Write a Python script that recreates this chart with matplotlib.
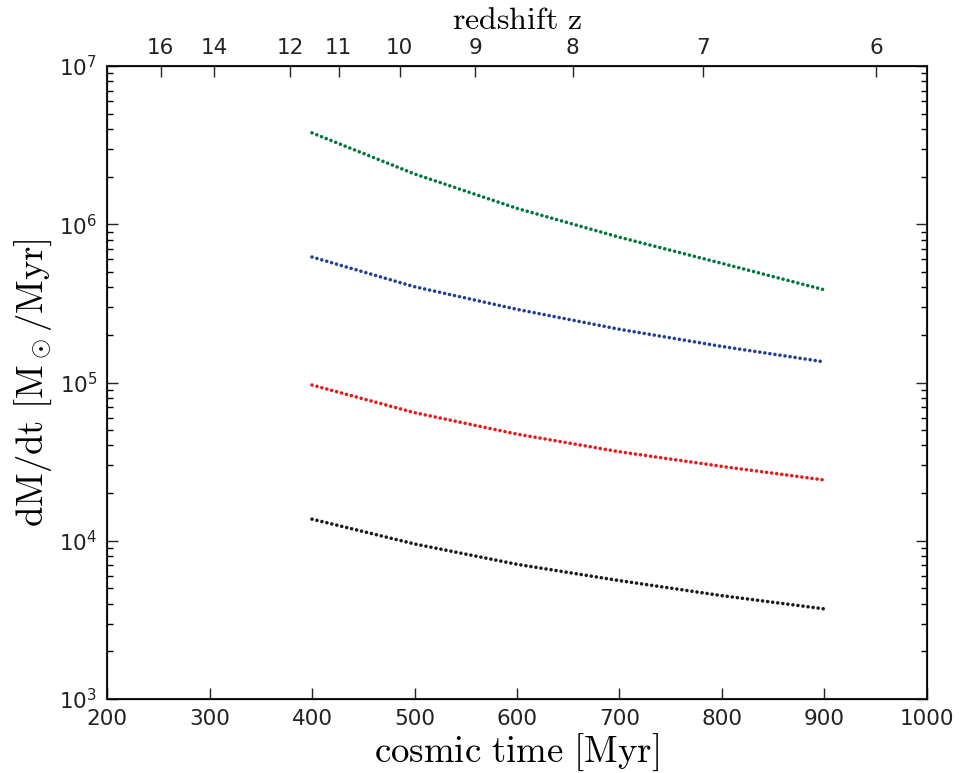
import numpy as np
import matplotlib
matplotlib.use('Agg')
import matplotlib.pyplot as plt

plt.rcParams['mathtext.fontset'] = 'cm'
plt.rcParams['font.family'] = 'DejaVu Sans'

# cosmic time [Myr] and accretion rates
t = [400, 500, 600, 700, 800, 900]
dmdt_green = [3.78e6, 2.08e6, 1.26e6, 8.28e5, 5.66e5, 3.85e5]
dmdt_blue = [6.21e5, 4.03e5, 2.90e5, 2.17e5, 1.69e5, 1.35e5]
dmdt_red = [9.64e4, 6.45e4, 4.72e4, 3.65e4, 2.95e4, 2.42e4]
dmdt_black = [1.37e4, 9.55e3, 7.10e3, 5.60e3, 4.50e3, 3.71e3]

# redshift ticks on top axis and the cosmic time they sit at
z_labels = ['16', '14', '12', '11', '10', '9', '8', '7', '6']
z_times = [252.4, 304.8, 378.5, 426.1, 485.5, 559.3, 654.5, 781.3, 950.7]

fig = plt.figure(figsize=(9.59, 7.73), dpi=100)
ax = fig.add_axes([0.1116, 0.0957, 0.855, 0.8189])

dots = dict(linestyle=(0, (0.01, 1.4)), dash_capstyle='round', lw=2.6)
ax.plot(t, dmdt_green, color='#00783c', **dots)
ax.plot(t, dmdt_blue, color='#233f94', **dots)
ax.plot(t, dmdt_red, color='#e41a1c', **dots)
ax.plot(t, dmdt_black, color='#1a1a1a', **dots)

ax.set_yscale('log')
ax.set_xlim(200, 1000)
ax.set_ylim(1e3, 1e7)
ax.set_xticks([200, 300, 400, 500, 600, 700, 800, 900, 1000])

ax.set_xlabel(r'$\mathrm{cosmic\ time\ [Myr]}$', fontsize=26.5, labelpad=2)
ax.set_ylabel(r'$\mathrm{dM/dt\ [M_\odot/Myr]}$', fontsize=26.5, labelpad=4)

ax.tick_params(axis='both', which='major', direction='in', length=8, width=1,
               labelsize=15.5, pad=7, colors='#222222')
ax.tick_params(axis='y', which='both', right=True, direction='in')
ax.tick_params(axis='y', which='minor', length=4, width=1)
ax.tick_params(axis='x', top=False)
for s in ax.spines.values():
    s.set_linewidth(1.5)
    s.set_color('#222222')

ax2 = ax.twiny()
ax2.set_xlim(ax.get_xlim())
ax2.set_xticks(z_times)
ax2.set_xticklabels(z_labels)
ax2.tick_params(axis='x', direction='in', length=8, width=1, labelsize=15.5,
                pad=6, colors='#222222')
ax2.set_xlabel(r'$\mathrm{redshift\ z}$', fontsize=23)
ax2.xaxis.set_label_coords(0.5, 1.048)
ax2.xaxis.label.set_va('bottom')

fig.savefig('out.png', dpi=100)
